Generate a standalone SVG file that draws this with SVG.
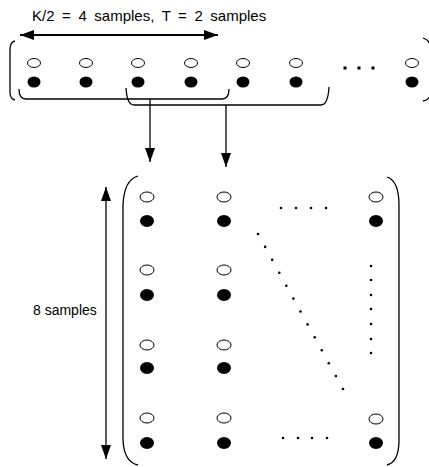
<svg xmlns="http://www.w3.org/2000/svg" width="429" height="467" viewBox="0 0 429 467">
<style>
.lbl{font-family:"Liberation Sans",Arial,sans-serif;font-size:14px;fill:#000}
.o{fill:#fff;stroke:#000;stroke-width:1}
.f{fill:#000}
.ln{fill:none;stroke:#000;stroke-width:1.3}
.d{fill:#000}
</style>
<defs>
<marker id="ah" markerUnits="userSpaceOnUse" viewBox="0 0 14 10" markerWidth="14" markerHeight="10" refX="14" refY="5" orient="auto-start-reverse">
<path d="M0,0 L14,5 L0,10 z" fill="#000"/>
</marker>
</defs>
<g id="top-label">
<text class="lbl" x="32" y="21" style="font-size:15px" word-spacing="3.4">K/2 = 4 samples, T = 2 samples</text>
</g>
<g id="top-row">
<path class="ln" d="M15 41 Q10 42 10 50 L10 92 Q10 99 15 100"/>
<path class="ln" d="M423 38 Q430 40 431 48 L431 92 Q430 100 423 101"/>
<g>
<ellipse class="o" cx="34" cy="63" rx="6.5" ry="4.5"/><ellipse class="f" cx="34" cy="82" rx="6.5" ry="5.5"/>
<ellipse class="o" cx="86" cy="63" rx="6.5" ry="4.5"/><ellipse class="f" cx="86" cy="82" rx="6.5" ry="5.5"/>
<ellipse class="o" cx="138" cy="63" rx="6.5" ry="4.5"/><ellipse class="f" cx="138" cy="82" rx="6.5" ry="5.5"/>
<ellipse class="o" cx="191" cy="63" rx="6.5" ry="4.5"/><ellipse class="f" cx="191" cy="82" rx="6.5" ry="5.5"/>
<ellipse class="o" cx="243" cy="63" rx="6.5" ry="4.5"/><ellipse class="f" cx="243" cy="82" rx="6.5" ry="5.5"/>
<ellipse class="o" cx="296" cy="63" rx="6.5" ry="4.5"/><ellipse class="f" cx="296" cy="82" rx="6.5" ry="5.5"/>
<ellipse class="o" cx="412" cy="63" rx="6.5" ry="4.5"/><ellipse class="f" cx="412" cy="82" rx="6.5" ry="5.5"/>
</g>
<rect class="d" x="343.5" y="66.5" width="3" height="3"/>
<rect class="d" x="357.5" y="66.5" width="3" height="3"/>
<rect class="d" x="371.5" y="66.5" width="3" height="3"/>
</g>
<g id="matrix">
<path class="ln" d="M138 176 Q124 180 123 205 L123 440 Q124 462 138 465"/>
<path class="ln" d="M387 177 Q399 181 399 205 L399 440 Q399 462 387 465"/>
<g>
<ellipse class="o" cx="147" cy="197" rx="7" ry="5"/><ellipse class="f" cx="147" cy="221" rx="7" ry="6"/>
<ellipse class="o" cx="224" cy="197" rx="7" ry="5"/><ellipse class="f" cx="224" cy="221" rx="7" ry="6"/>
<ellipse class="o" cx="376" cy="197" rx="7" ry="5"/><ellipse class="f" cx="376" cy="221" rx="7" ry="6"/>
<ellipse class="o" cx="147" cy="270" rx="7" ry="5"/><ellipse class="f" cx="147" cy="295" rx="7" ry="6"/>
<ellipse class="o" cx="224" cy="270" rx="7" ry="5"/><ellipse class="f" cx="224" cy="295" rx="7" ry="6"/>
<ellipse class="o" cx="147" cy="345" rx="7" ry="5"/><ellipse class="f" cx="147" cy="368" rx="7" ry="6"/>
<ellipse class="o" cx="224" cy="345" rx="7" ry="5"/><ellipse class="f" cx="224" cy="368" rx="7" ry="6"/>
<ellipse class="o" cx="147" cy="418" rx="7" ry="5"/><ellipse class="f" cx="147" cy="443" rx="7" ry="6"/>
<ellipse class="o" cx="224" cy="418" rx="7" ry="5"/><ellipse class="f" cx="224" cy="443" rx="7" ry="6"/>
<ellipse class="o" cx="376" cy="419" rx="7" ry="5"/><ellipse class="f" cx="376" cy="443" rx="7" ry="6"/>
</g>
<g>
<circle class="d" cx="281" cy="208" r="1.3"/><circle class="d" cx="296" cy="208" r="1.3"/><circle class="d" cx="311" cy="208" r="1.3"/><circle class="d" cx="326" cy="208" r="1.3"/>
<circle class="d" cx="283" cy="438" r="1.3"/><circle class="d" cx="298" cy="438" r="1.3"/><circle class="d" cx="312" cy="438" r="1.3"/><circle class="d" cx="327" cy="438" r="1.3"/>
<circle class="d" cx="371" cy="266" r="1.3"/><circle class="d" cx="371" cy="280" r="1.3"/><circle class="d" cx="371" cy="295" r="1.3"/><circle class="d" cx="371" cy="309" r="1.3"/><circle class="d" cx="371" cy="324" r="1.3"/><circle class="d" cx="371" cy="339" r="1.3"/><circle class="d" cx="371" cy="353" r="1.3"/>
<circle class="d" cx="258" cy="234" r="1.3"/><circle class="d" cx="265.1" cy="246.9" r="1.3"/><circle class="d" cx="272.2" cy="259.8" r="1.3"/><circle class="d" cx="279.3" cy="272.8" r="1.3"/><circle class="d" cx="286.3" cy="285.7" r="1.3"/><circle class="d" cx="293.4" cy="298.6" r="1.3"/><circle class="d" cx="300.5" cy="311.5" r="1.3"/><circle class="d" cx="307.6" cy="324.4" r="1.3"/><circle class="d" cx="314.7" cy="337.3" r="1.3"/><circle class="d" cx="321.8" cy="350.3" r="1.3"/><circle class="d" cx="328.8" cy="363.2" r="1.3"/><circle class="d" cx="335.9" cy="376.1" r="1.3"/><circle class="d" cx="343" cy="389" r="1.3"/>
</g>
</g>
<g id="side-label">
<text class="lbl" x="33" y="315">8 samples</text>
</g>
<g id="connectors">
<line x1="20" y1="35" x2="218" y2="35" stroke="#000" stroke-width="2" marker-start="url(#ah)" marker-end="url(#ah)"/>
<path class="ln" d="M19 89 Q19 99 26 99 L222 99 Q229 99 229 89"/>
<path class="ln" d="M126 88 Q127 105 134 105 L321 105 Q328 105 329 87"/>
<line class="ln" x1="150" y1="99" x2="150" y2="162" marker-end="url(#ah)"/>
<line class="ln" x1="226" y1="105" x2="226" y2="167" marker-end="url(#ah)"/>
<line class="ln" x1="106" y1="187" x2="106" y2="459" marker-start="url(#ah)" marker-end="url(#ah)"/>
</g>
</svg>
